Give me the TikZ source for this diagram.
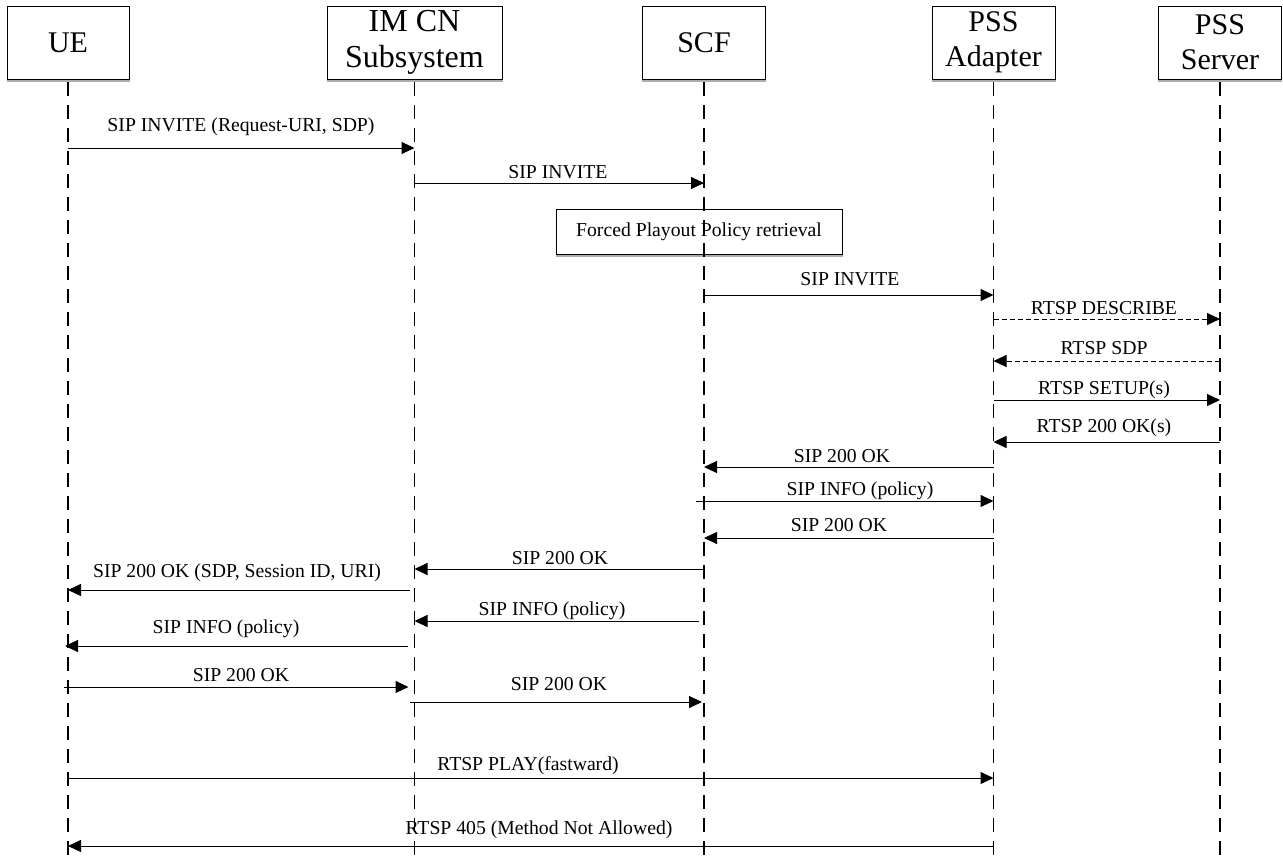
\documentclass[tikz,border=0pt]{standalone}
\usepackage{fontspec}
\setmainfont{Liberation Serif}
\usetikzlibrary{arrows.meta}
\begin{document}
\begin{tikzpicture}[x=1pt,y=-1pt,
  actor/.style={draw,line width=1pt,fill=white,minimum height=73pt,inner sep=0pt,align=center,font=\fontsize{30}{35}\selectfont},
  notebox/.style={draw,line width=1pt,minimum width=286pt,minimum height=45pt,inner sep=0pt,font=\fontsize{19.7}{23}\selectfont},
  shade/.style={gray!65,line width=2pt},
  life/.style={line width=1.3pt,dash pattern=on 14pt off 9pt},
  msg/.style={line width=1pt,-{Triangle[length=13pt,width=12pt]}},
  dmsg/.style={msg,dash pattern=on 5pt off 3pt},
  lab/.style={inner sep=0pt,font=\fontsize{19.7}{23}\selectfont}]
\useasboundingbox (0,0) rectangle (1283,860);
\fill[white] (0,0) rectangle (1283,860);

% participants
\node[actor,minimum width=122pt] (ue)  at (68,42.5)    {UE};
\node[actor,minimum width=175pt,font=\fontsize{32}{36}\selectfont] (ims) at (414.5,42.5) {IM CN\\Subsystem};
\node[actor,minimum width=123pt] (scf) at (704,42.5)   {SCF};
\node[actor,minimum width=123pt] (psa) at (993.5,42.5) {PSS\\Adapter};
\node[actor,minimum width=123pt] (pss) at (1220,42.5)  {PSS\\Server};
\foreach \n in {ue,ims,scf,psa,pss}
  \draw[shade] ([yshift=-1.5pt]\n.south west) -- ([yshift=-1.5pt]\n.south east);

% note box
\node[notebox] (fpp) at (699,231.5) {Forced Playout Policy retrieval};
\draw[shade] ([yshift=-1.5pt]fpp.south west) -- ([yshift=-1.5pt]fpp.south east);

% lifelines
\coordinate (bot) at (0,860);
\foreach \n in {ue,ims,scf,psa,pss}
  \draw[life] ([yshift=-2.5pt]\n.south) -- (\n |- bot);

% messages
\draw[msg] (ue |- 0,148) -- (ims |- 0,148);
\node[lab] (t1) at (241,127) {SIP INVITE (Request-URI, SDP)};

\draw[msg] (ims |- 0,183) -- (scf |- 0,183);
\node[lab] (t2) at (558,172) {SIP INVITE};

\draw[msg] (scf |- 0,295) -- (psa |- 0,295);
\node[lab] (t3) at (850,279) {SIP INVITE};

\draw[dmsg] (psa |- 0,319) -- (pss |- 0,319);
\node[lab] (t4) at (1104,308) {RTSP DESCRIBE};

\draw[dmsg] (pss |- 0,361) -- (psa |- 0,361);
\node[lab] (t5) at (1104,348) {RTSP SDP};

\draw[msg] (psa |- 0,400) -- (pss |- 0,400);
\node[lab] (t6) at (1104,390) {RTSP SETUP(s)};

\draw[msg] (pss |- 0,442) -- (psa |- 0,442);
\node[lab] (t7) at (1104,428) {RTSP 200 OK(s)};

\draw[msg] (psa |- 0,467) -- (scf |- 0,467);
\node[lab] (t8) at (842,456) {SIP 200 OK};

\draw[msg] ([xshift=-8pt]scf |- 0,501) -- (psa |- 0,501);
\node[lab] (t9) at (860,491) {SIP INFO (policy)};

\draw[msg] (psa |- 0,538) -- (scf |- 0,538);
\node[lab] (t10) at (839,525) {SIP 200 OK};

\draw[msg] (scf |- 0,569) -- (ims |- 0,569);
\node[lab] (t11) at (560,558) {SIP 200 OK};

\draw[msg] ([xshift=-5pt]ims |- 0,590) -- (ue |- 0,590);
\node[lab] (t12) at (237,573) {SIP 200 OK (SDP, Session ID, URI)};

\draw[msg] ([xshift=-5pt]scf |- 0,621) -- (ims |- 0,621);
\node[lab] (t13) at (552,611) {SIP INFO (policy)};

\draw[msg] ([xshift=-7pt]ims |- 0,646) -- ([xshift=-3pt]ue |- 0,646);
\node[lab] (t14) at (226,629) {SIP INFO (policy)};

\draw[msg] ([xshift=-4pt]ue |- 0,687) -- ([xshift=-6pt]ims |- 0,687);
\node[lab] (t15) at (241,675) {SIP 200 OK};

\draw[msg] ([xshift=-5pt]ims |- 0,702) -- ([xshift=-2pt]scf |- 0,702);
\node[lab] (t16) at (559,684) {SIP 200 OK};

\draw[msg] (ue |- 0,778) -- (psa |- 0,778);
\node[lab] (t17) at (528,766) {RTSP PLAY(fastward)};

\draw[msg] (psa |- 0,846) -- (ue |- 0,846);
\node[lab] (t18) at (539,830) {RTSP 405 (Method Not Allowed)};
\end{tikzpicture}
\end{document}
